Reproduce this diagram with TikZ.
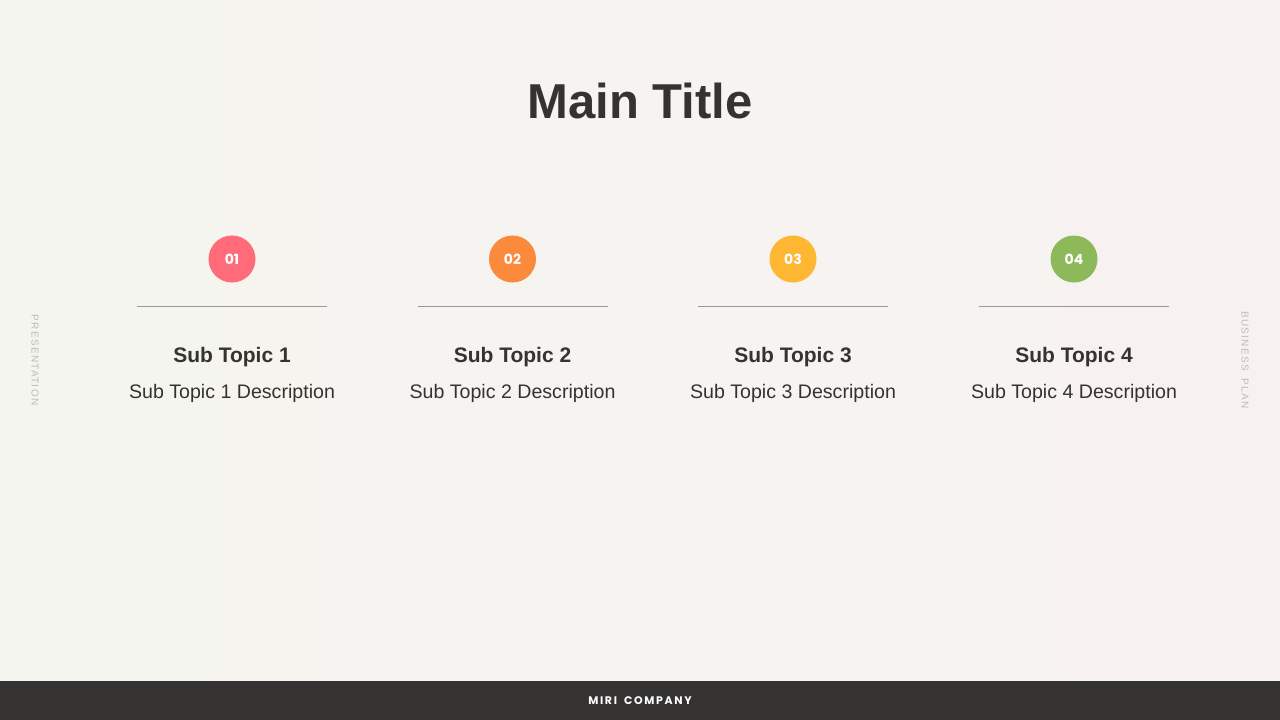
\documentclass[tikz,border=0pt]{standalone}
\usepackage{fontspec}
\setmainfont{Liberation Sans}
\newfontfamily\numfont{Poppins}
\definecolor{bgleft}{HTML}{F5F5EF}
\definecolor{bgright}{HTML}{F7F2F1}
\definecolor{footdark}{HTML}{353232}
\definecolor{inkdark}{HTML}{353230}
\definecolor{rulegray}{HTML}{9A9896}
\definecolor{sidegray}{HTML}{BDBBB8}
\definecolor{dotpink}{HTML}{FF6B78}
\definecolor{dotorange}{HTML}{FB8A3C}
\definecolor{dotyellow}{HTML}{FEB733}
\definecolor{dotgreen}{HTML}{8DB95A}
\tikzset{
  dot/.style={circle, minimum size=47pt, inner sep=0pt, text=white,
    font=\numfont\bfseries\fontsize{14}{14}\selectfont},
  subhead/.style={text=inkdark, inner sep=0pt,
    font=\bfseries\fontsize{21}{24}\selectfont},
  subdesc/.style={text=inkdark, inner sep=0pt,
    font=\fontsize{19.6}{24}\selectfont},
  sidetext/.style={text=sidegray, inner sep=0pt, rotate=-90,
    font=\fontsize{10}{10}\selectfont}
}
\begin{document}
\begin{tikzpicture}[x=1pt, y=-1pt]
  \shade[left color=bgleft, right color=bgright] (0,0) rectangle (1280,720);
  \useasboundingbox (0,0) rectangle (1280,720);
  \fill[footdark] (0,681) rectangle (1280,720);
  \node[text=white, font=\numfont\bfseries\fontsize{11}{11}\selectfont] (footer) at (640,701)
    {\addfontfeatures{LetterSpace=15}MIRI\hspace{3pt} COMPANY};

  \node[text=inkdark, font=\bfseries\fontsize{49}{52}\selectfont] (title) at (640,101) {Main Title};

  \node[sidetext] (left side) at (35,360) {\addfontfeatures{LetterSpace=13}PRESENTATION};
  \node[sidetext] (right side) at (1245,360) {\addfontfeatures{LetterSpace=13}BUSINESS\hspace{4pt} PLAN};

  \foreach \i/\x/\col in {1/232/dotpink, 2/512.5/dotorange, 3/793/dotyellow, 4/1074/dotgreen} {
    \node[dot, fill=\col] (dot\i) at (\x,259) {0\i};
    \coordinate (rule\i) at (\x,306);
    \draw[rulegray, line width=0.8pt] ([xshift=-95pt]rule\i) -- ([xshift=95pt]rule\i);
    \node[subhead] (head\i) at (\x,357) {Sub Topic \i};
    \node[subdesc] (desc\i) at (\x,393) {Sub Topic \i\ Description};
  }
\end{tikzpicture}
\end{document}
